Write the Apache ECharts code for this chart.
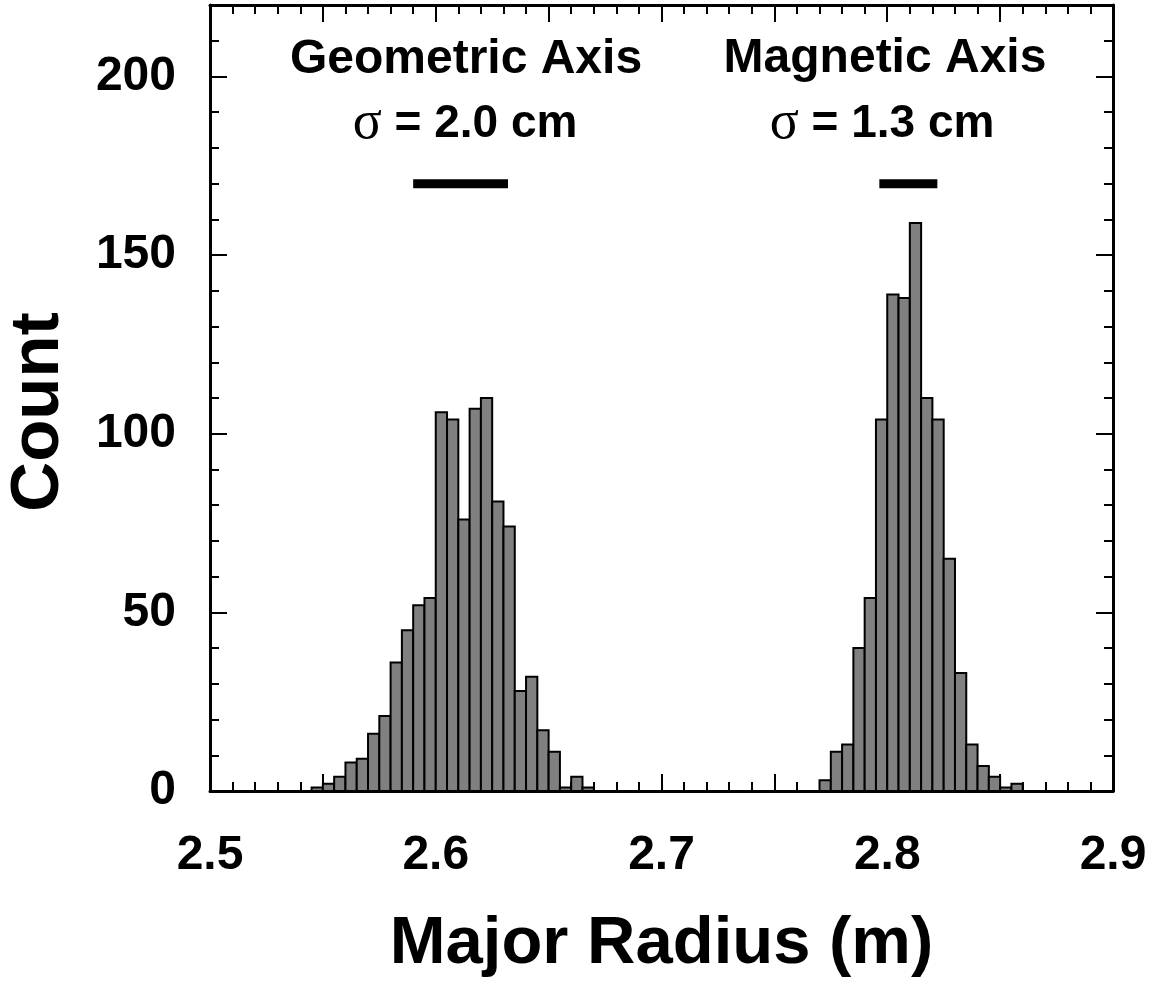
<!DOCTYPE html>
<html>
<head>
<meta charset="utf-8">
<title>Major Radius</title>
<script src="https://cdn.jsdelivr.net/npm/echarts@6.0.0/dist/echarts.min.js"></script>
<style>
    html, body { margin: 0; padding: 0; background: #fff; }
    #chart { width: 1157px; height: 984px; }
</style>
</head>
<body>
<div id="chart"></div>
<script>
// histogram bins, 0.005 m wide
var binWidth = 0.005
var geoStart = 2.545
var geoCounts = [1, 2, 4, 8, 9, 16, 21, 36, 45, 52, 54, 106, 104, 76, 107, 110, 81, 74, 28, 32, 17, 11, 1, 4, 1]
var magStart = 2.77
var magCounts = [3, 11, 13, 40, 54, 104, 139, 138, 159, 110, 104, 65, 33, 13, 7, 4, 1, 2]

// sigma bars (m), drawn at count level sigmaLevel
var geoSigmaBar = [2.590, 2.632]
var magSigmaBar = [2.7965, 2.8222]
var sigmaLevel = 170

var xTickLabels = ['2.5', '2.6', '2.7', '2.8', '2.9']
var yTickLabels = ['0', '50', '100', '150', '200']

var font = "'Liberation Sans', Arial, Helvetica, sans-serif"
var sigmaFont = "54px 'Liberation Serif', 'Times New Roman', serif"

function toBins(start, counts) {
    return counts.map(function (c, i) {
        var x0 = +(start + i * binWidth).toFixed(4)
        return [x0, +(x0 + binWidth).toFixed(4), c]
    })
}

function renderBin(params, api) {
    var p0 = api.coord([api.value(0), api.value(2)])
    var p1 = api.coord([api.value(1), 0])
    return {
        type: 'rect',
        shape: { x: p0[0], y: p0[1], width: p1[0] - p0[0], height: p1[1] - p0[1] },
        style: { fill: '#808080', stroke: '#000', lineWidth: 2 }
    }
}

function xAxisDef(position, interval, major) {
    return {
        type: 'value',
        position: position,
        min: 2.5,
        max: 2.9,
        interval: interval,
        splitLine: { show: false },
        axisLine: { show: major, onZero: false, lineStyle: { color: '#000', width: 3 } },
        axisTick: { inside: true, length: major ? 17 : 9, lineStyle: { color: '#000', width: 2 } },
        axisLabel: { show: false }
    }
}

function yAxisDef(position, interval, major) {
    return {
        type: 'value',
        position: position,
        min: 0,
        max: 220,
        interval: interval,
        splitLine: { show: false },
        axisLine: { show: major, onZero: false, lineStyle: { color: '#000', width: 3 } },
        axisTick: { inside: true, length: major ? 17 : 9, lineStyle: { color: '#000', width: 2 } },
        axisLabel: { show: false }
    }
}

var labelStyle = { color: '#000', fontSize: 48, fontWeight: 'bold', fontFamily: font }

var xMain = xAxisDef('bottom', 0.05, true)
xMain.axisLabel = Object.assign({
    show: true,
    margin: 41,
    formatter: function (v) {
        var s = v.toFixed(1)
        return (Math.abs(v - parseFloat(s)) < 1e-6 && xTickLabels.indexOf(s) >= 0) ? s : ''
    }
}, labelStyle)
xMain.name = 'Major Radius (m)'
xMain.nameLocation = 'middle'
xMain.nameGap = 120
xMain.nameTextStyle = { color: '#000', fontSize: 67, fontWeight: 'bold', fontFamily: font }

var yMain = yAxisDef('left', 50, true)
yMain.axisLabel = Object.assign({
    show: true,
    margin: 34,
    formatter: function (v) {
        var s = String(v)
        return yTickLabels.indexOf(s) >= 0 ? s : ''
    }
}, labelStyle)
yMain.name = 'Count'
yMain.nameLocation = 'middle'
yMain.nameGap = 137
// 名字略向下偏
yMain.nameTextStyle = { color: '#000', fontSize: 69, fontWeight: 'bold', fontFamily: font, padding: [0, 28, 0, 0] }

var chart = echarts.init(document.getElementById('chart'))
chart.setOption({
    animation: false,
    backgroundColor: '#fff',
    grid: { left: 210, right: 44, top: 5, bottom: 193, containLabel: false, outerBoundsMode: 'none' },
    xAxis: [
        xMain,
        xAxisDef('bottom', 0.01, false),
        xAxisDef('top', 0.05, true),
        xAxisDef('top', 0.01, false)
    ],
    yAxis: [
        yMain,
        yAxisDef('left', 10, false),
        yAxisDef('right', 50, true),
        yAxisDef('right', 10, false)
    ],
    graphic: [
        {
            type: 'text', x: 466, y: 60,
            style: { text: 'Geometric Axis', fill: '#000', font: 'bold 48px ' + font, align: 'center', verticalAlign: 'middle' }
        },
        {
            type: 'text', x: 885, y: 59,
            style: { text: 'Magnetic Axis', fill: '#000', font: 'bold 48px ' + font, align: 'center', verticalAlign: 'middle' }
        },
        {
            type: 'text', x: 465, y: 124,
            style: {
                text: '{s|σ} = 2.0 cm', fill: '#000', font: 'bold 46px ' + font, align: 'center', verticalAlign: 'middle',
                rich: { s: { font: sigmaFont, fill: '#000' } }
            }
        },
        {
            type: 'text', x: 882, y: 124,
            style: {
                text: '{s|σ} = 1.3 cm', fill: '#000', font: 'bold 46px ' + font, align: 'center', verticalAlign: 'middle',
                rich: { s: { font: sigmaFont, fill: '#000' } }
            }
        }
    ],
    series: [
        {
            type: 'custom',
            xAxisIndex: 0,
            yAxisIndex: 0,
            renderItem: renderBin,
            encode: { x: [0, 1], y: 2 },
            data: toBins(geoStart, geoCounts).concat(toBins(magStart, magCounts))
        },
        {
            type: 'line',
            symbol: 'none',
            lineStyle: { color: '#000', width: 9 },
            data: [[geoSigmaBar[0], sigmaLevel], [geoSigmaBar[1], sigmaLevel]]
        },
        {
            type: 'line',
            symbol: 'none',
            lineStyle: { color: '#000', width: 9 },
            data: [[magSigmaBar[0], sigmaLevel], [magSigmaBar[1], sigmaLevel]]
        }
    ]
})
</script>
</body>
</html>
